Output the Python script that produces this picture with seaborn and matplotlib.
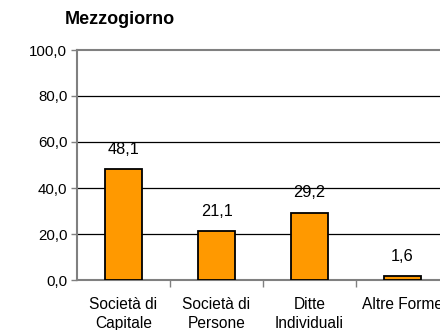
import matplotlib
matplotlib.use("Agg")
import matplotlib.pyplot as plt
import seaborn as sns
from matplotlib.ticker import FixedLocator

categories = ["Società di\nCapitale", "Società di\nPersone", "Ditte\nIndividuali", "Altre Forme"]
values = [48.1, 21.1, 29.2, 1.6]
yticks = [0, 20, 40, 60, 80, 100]
title = "Mezzogiorno"

sns.set_theme(style="white")
plt.rcParams["font.family"] = ["Liberation Sans", "DejaVu Sans"]
plt.rcParams["text.color"] = "black"
plt.rcParams["xtick.color"] = "black"
plt.rcParams["ytick.color"] = "black"

fig = plt.figure(figsize=(4.4, 3.3), dpi=100)
ax = fig.add_axes([77 / 440, 50 / 330, 372 / 440, 230 / 330])

sns.barplot(x=categories, y=values, color="#FF9900", edgecolor="black",
            linewidth=1.3, width=0.4, saturation=1, ax=ax, zorder=3)

ax.set_ylim(0, 100)
ax.set_xlim(-0.5, len(categories) - 0.5)
ax.set_yticks(yticks)
ax.set_yticklabels([f"{v:.1f}".replace(".", ",") for v in yticks],
                   fontsize=10.8, color="black")
ax.set_xlabel("")
ax.set_ylabel("")

for lab in ax.get_xticklabels():
    lab.set_fontsize(11.2)
    lab.set_linespacing(1.4)
    lab.set_color("black")

# horizontal gridlines
for v in yticks[1:-1]:
    ax.axhline(v, color="black", linewidth=0.9, zorder=1)

for side in ["left", "bottom", "top"]:
    ax.spines[side].set_color("#808080")
    ax.spines[side].set_linewidth(1.5)
ax.spines["right"].set_visible(False)

ax.tick_params(axis="y", which="major", length=4, width=1, color="#808080",
               left=True, pad=3)
ax.tick_params(axis="x", which="major", length=0, pad=12)
ax.xaxis.set_minor_locator(FixedLocator([i + 0.5 for i in range(len(categories) - 1)]))
ax.tick_params(axis="x", which="minor", length=5, width=1, color="#808080",
               bottom=True)

for i, v in enumerate(values):
    ax.annotate(f"{v:.1f}".replace(".", ","), (i, v), xytext=(0, 14.5),
                textcoords="offset points", ha="center", va="center",
                fontsize=11.8, color="black")

fig.text(120 / 440, 1 - 20 / 330, title, ha="center", va="center",
         fontsize=13, fontweight="bold", color="black")

fig.savefig("out.png", dpi=100)
